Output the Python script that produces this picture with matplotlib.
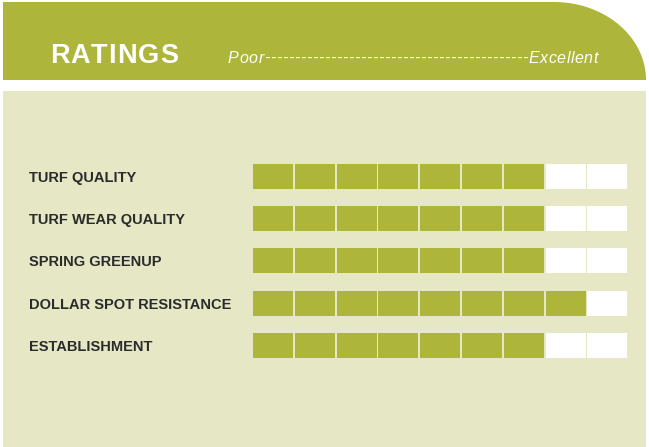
import numpy as np
import matplotlib
matplotlib.use('Agg')
import matplotlib.pyplot as plt
from matplotlib.patches import Rectangle, PathPatch
from matplotlib.path import Path
import matplotlib.transforms as mtransforms

# Data
categories = ['TURF QUALITY', 'TURF WEAR QUALITY', 'SPRING GREENUP',
              'DOLLAR SPOT RESISTANCE', 'ESTABLISHMENT']
ratings = [7, 7, 7, 8, 7]
max_rating = 9
scale_text = 'Poor' + '-' * 44 + 'Excellent'

GREEN = '#adb53a'
PANEL = '#e5e7c5'
TEXT = '#2b2b2b'

W, H = 649, 447
fig = plt.figure(figsize=(W / 100, H / 100), dpi=100)
fig.patch.set_facecolor('white')
renderer = fig.canvas.get_renderer()

# background axes in pixel coordinates
bg = fig.add_axes([0, 0, 1, 1])
bg.set_xlim(0, W)
bg.set_ylim(H, 0)
bg.axis('off')


def spaced_text(x, y, s, width, **kw):
    # draw text letter by letter, spread to a given pixel width
    arts, ws = [], []
    for ch in s:
        t = bg.text(x, y, ch, va='baseline', ha='left', **kw)
        arts.append(t)
        ws.append(t.get_window_extent(renderer).width if ch != ' ' else None)
    sp = bg.text(0, 0, 'a a', **kw)
    sp2 = bg.text(0, 0, 'aa', **kw)
    space_w = (sp.get_window_extent(renderer).width
               - sp2.get_window_extent(renderer).width)
    sp.remove()
    sp2.remove()
    ws = [space_w if w is None else w for w in ws]
    gap = (width - sum(ws)) / (len(s) - 1)
    cur = x
    for t, w in zip(arts, ws):
        t.set_x(cur)
        cur += w + gap


# header band with rounded top-right corner
left, top, bottom = 3, 2, 80
cx, rx = 554, 92
ry = bottom - top
a = np.linspace(np.pi / 2, 0, 40)
arc = [(cx + rx * np.cos(v), bottom - ry * np.sin(v)) for v in a]
verts = [(left, bottom), (left, top)] + arc + [(left, bottom)]
codes = [Path.MOVETO] + [Path.LINETO] * (len(verts) - 2) + [Path.CLOSEPOLY]
bg.add_patch(PathPatch(Path(verts, codes), facecolor=GREEN, edgecolor='none'))

# light panel
bg.add_patch(Rectangle((3, 91), 643, H - 91, facecolor=PANEL, edgecolor='none'))

spaced_text(50, 63, 'RATINGS', 128, color='white', fontsize=19.5,
            fontweight='bold', family='Liberation Sans')
spaced_text(228, 63, scale_text, 370, color='white', fontsize=11.5,
            fontstyle='italic', family='Liberation Sans')

# rating cells
pitch_x, cell_w = 41.8, 40
pitch_y, cell_h = 42.2, 25
x0, y0 = 253, 164
n = len(categories)
gw = max_rating * pitch_x
gh = (n - 1) * pitch_y + cell_h
ax = fig.add_axes([x0 / W, 1 - (y0 + gh) / H, gw / W, gh / H])
ax.set_xlim(0, max_rating)
ax.set_ylim(gh / pitch_y, 0)
ax.axis('off')

for i, (cat, r) in enumerate(zip(categories, ratings)):
    xs = np.arange(max_rating)
    colors = [GREEN if j < r else 'white' for j in xs]
    ax.bar(xs, cell_h / pitch_y, bottom=i, width=cell_w / pitch_x,
           align='edge', color=colors, edgecolor='none')

trans = mtransforms.blended_transform_factory(bg.transData, ax.transData)
for i, cat in enumerate(categories):
    ax.text(29, i + 18 / pitch_y, cat, transform=trans, color=TEXT,
            fontsize=10.5, fontweight='bold', family='Liberation Sans',
            va='baseline', ha='left', clip_on=False)

fig.savefig('out.png', dpi=100, facecolor='white')
